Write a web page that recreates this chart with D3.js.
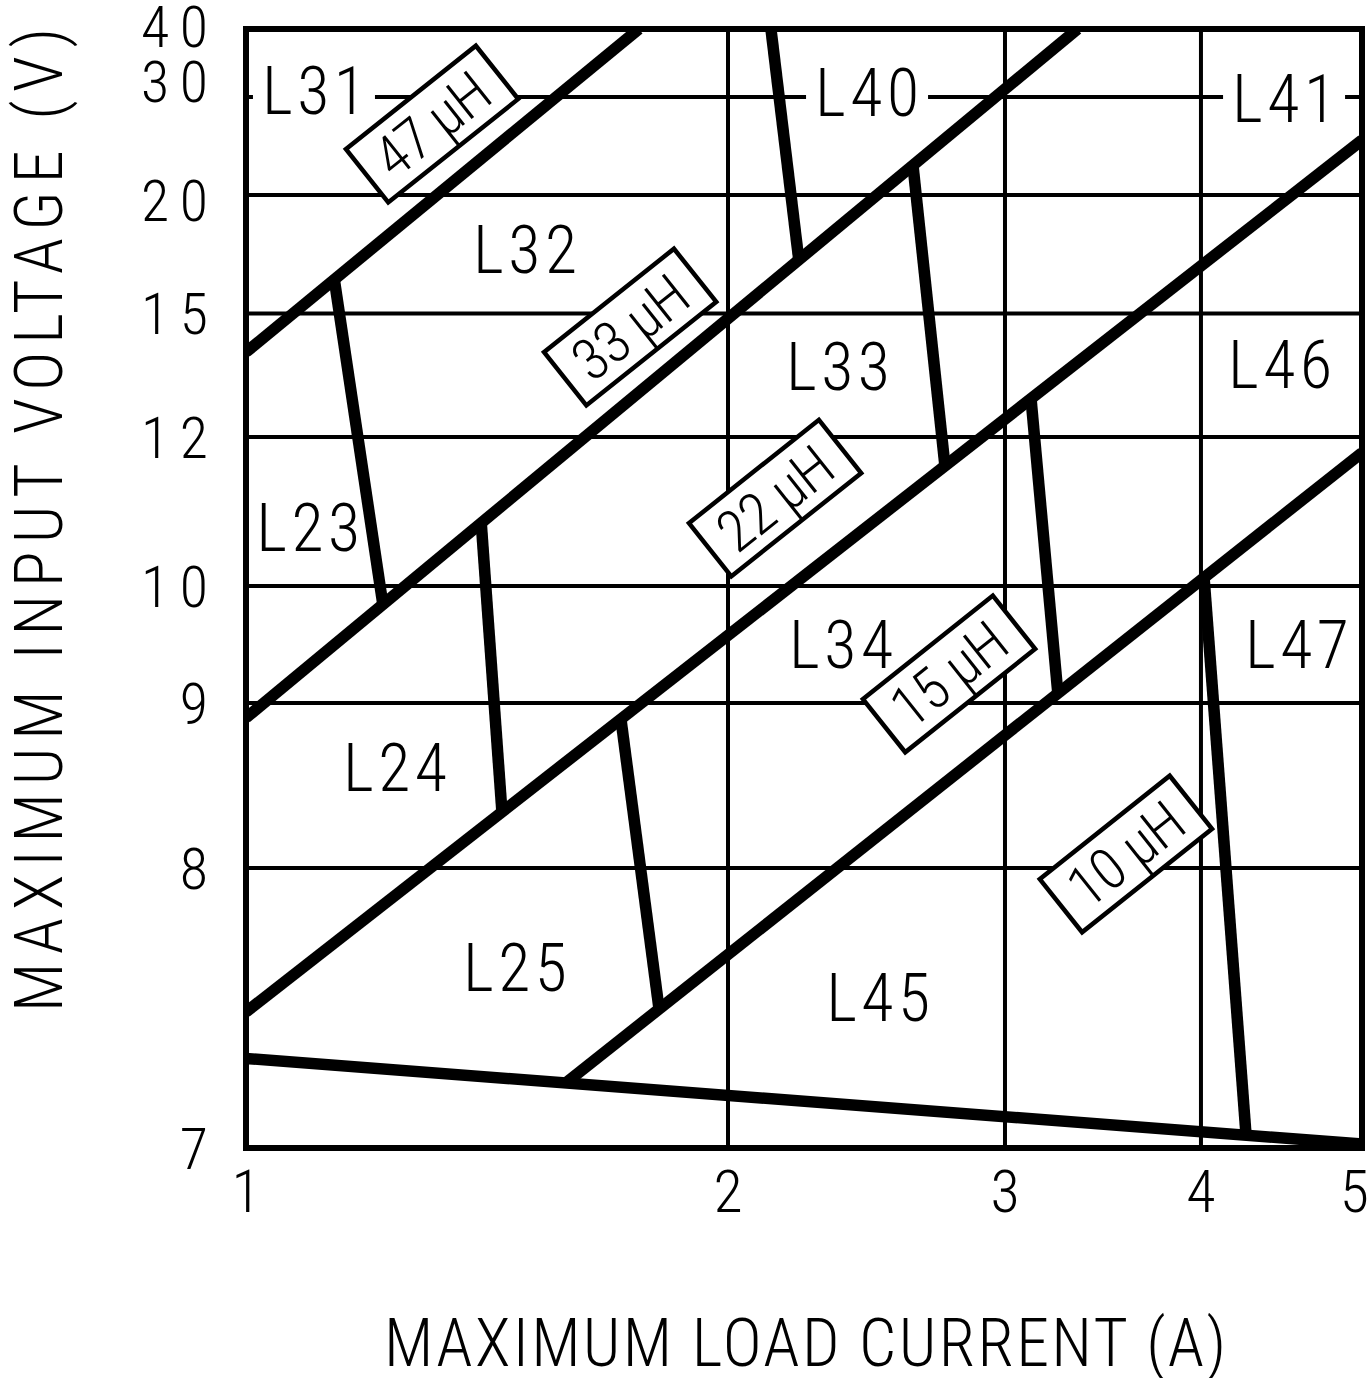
<!DOCTYPE html>
<html><head><meta charset="utf-8">
<script src="https://cdn.jsdelivr.net/npm/d3@7"></script>
<style>
body{margin:0;background:#fff}
text{font-family:"Roboto Condensed","Roboto",sans-serif;font-weight:300;fill:#000}
</style></head>
<body><svg id="chart" width="1372" height="1378"></svg>
<script>
// ---------------- DATA ----------------
const xTicks = [1, 2, 3, 4, 5];
const yTicks = [7, 8, 9, 10, 12, 15, 20, 30, 40];
const xTitle = "MAXIMUM LOAD CURRENT (A)";
const yTitle = "MAXIMUM INPUT VOLTAGE (V)";

// inductance boundary lines (load current A, input voltage V)
const bound47to33 = [[1, 14.06], [1.815, 40]];
const bound33to22 = [[1, 8.91], [3.37, 40]];
const bound22to15 = [[1, 7.486], [5, 25.6]];
const bound15to10 = [[1.666, 7.236], [5, 11.79]];
const minVoltage  = [[1, 7.32], [5, 7.014]];

// core-size boundary lines
const coreBounds = [
  [[1.183, 16.46], [1.284, 9.84]],
  [[2.155, 40],    [2.256, 17.22]],
  [[1.488, 10.85], [1.531, 8.34]],
  [[2.668, 22.96], [2.783, 11.62]],
  [[1.778, 8.90],  [1.857, 7.496]],
  [[3.133, 12.92], [3.27, 9.077]],
  [[4.019, 10.12], [4.28, 7.046]]
];

// region (inductor code) labels
const regionNames = ["L31", "L40", "L41", "L32", "L33", "L46", "L23", "L34", "L47", "L24", "L25", "L45"];
const regionX     = [1.141, 2.502, 4.516, 1.579, 2.397, 4.491, 1.129, 2.408, 4.596, 1.309, 1.558, 2.542];
const regionY     = [30.88, 30.59, 29.8, 17.68, 13.70, 13.75, 10.79, 9.496, 9.496, 8.606, 7.643, 7.536];

// inductance value tags
const inductNames = ["47 µH", "33 µH", "22 µH", "15 µH", "10 µH"];
const inductX     = [1.386, 1.797, 2.170, 2.798, 3.617];
const inductY     = [27.24, 14.67, 11.18, 9.248, 8.085];

// ---------------- LAYOUT ----------------
const margin = {left: 246, top: 29};
const W = 1116, H = 1119;
// the printed nomograph axes are hand-spaced; tick fractions along each axis
const xFrac = [0, 0.4319, 0.6801, 0.8557, 1];
const yFrac = [0, 0.2502, 0.3977, 0.5022, 0.6354, 0.7458, 0.8517, 0.9392, 1];

const x = d3.scaleLinear().domain(xTicks).range(xFrac.map(f => f * W));
const y = d3.scaleLinear().domain(yTicks).range(yFrac.map(f => H - f * H));

const svg = d3.select("#chart");
svg.append("defs").append("clipPath").attr("id", "plotClip")
  .append("rect").attr("x", -1).attr("y", -1).attr("width", W + 2).attr("height", H + 2);
const g = svg.append("g").attr("transform", `translate(${margin.left},${margin.top})`);
const line = d3.line().x(d => x(d[0])).y(d => y(d[1]));

// grid
g.append("g").selectAll("line").data(xTicks.slice(1, -1)).join("line")
  .attr("x1", d => x(d)).attr("x2", d => x(d)).attr("y1", 0).attr("y2", H)
  .attr("stroke", "#000").attr("stroke-width", 4);
g.append("g").selectAll("line").data(yTicks.slice(1, -1)).join("line")
  .attr("x1", 0).attr("x2", W).attr("y1", d => y(d)).attr("y2", d => y(d))
  .attr("stroke", "#000").attr("stroke-width", 4);

// region labels with white knock-out
const capC = 0.355; // em, half cap height of the font
const regions = regionNames.map((n, i) => ({n, x: regionX[i], y: regionY[i]}));
const rg = g.append("g");
rg.selectAll("rect").data(regions).join("rect")
  .attr("x", d => x(d.x) - 61).attr("y", d => y(d.y) - 27)
  .attr("width", 122).attr("height", 54).attr("fill", "#fff");
rg.selectAll("text").data(regions).join("text")
  .attr("x", d => x(d.x)).attr("y", d => y(d.y)).attr("dy", capC + "em")
  .attr("text-anchor", "middle").style("font-size", "66px")
  .attr("textLength", 104).attr("lengthAdjust", "spacing")
  .text(d => d.n);

// thick boundary lines, clipped to the plot
const thick = g.append("g").attr("clip-path", "url(#plotClip)")
  .attr("fill", "none").attr("stroke", "#000").attr("stroke-width", 11.5);
[bound47to33, bound33to22, bound22to15, bound15to10, minVoltage].forEach(l =>
  thick.append("path").attr("d", line(l)));
thick.selectAll("path.core").data(coreBounds).join("path").attr("class", "core").attr("d", line);

// frame
g.append("rect").attr("x", 0).attr("y", 0).attr("width", W).attr("height", H)
  .attr("fill", "none").attr("stroke", "#000").attr("stroke-width", 6);

// inductance tags
const tags = inductNames.map((n, i) => ({n, x: inductX[i], y: inductY[i]}));
const tg = g.append("g").selectAll("g").data(tags).join("g")
  .attr("transform", d => `translate(${x(d.x)},${y(d.y)}) rotate(-38.5)`);
tg.append("rect").attr("x", -83).attr("y", -34).attr("width", 166).attr("height", 68)
  .attr("fill", "#fff").attr("stroke", "#000").attr("stroke-width", 4.5);
tg.append("text").attr("text-anchor", "middle").attr("dy", capC + "em")
  .style("font-size", "58px").attr("textLength", 130).attr("lengthAdjust", "spacing")
  .text(d => d.n);

// y tick labels
const yNudge = {40: -3, 30: -16, 20: 5};
g.append("g").selectAll("text").data(yTicks).join("text")
  .attr("x", -38).attr("y", d => y(d) + (yNudge[d] || 0)).attr("dy", capC + "em")
  .attr("text-anchor", "end").style("font-size", "58px")
  .each(function(d) { if (String(d).length > 1) d3.select(this).attr("textLength", 67).attr("lengthAdjust", "spacing"); })
  .text(d => d);

// x tick labels
g.append("g").selectAll("text").data(xTicks).join("text")
  .attr("x", d => x(d)).attr("y", H + 43).attr("dy", capC + "em")
  .attr("text-anchor", d => d === 5 ? "end" : "middle")
  .attr("dx", d => d === 5 ? 7 : 0)
  .style("font-size", "60px")
  .text(d => d);

// axis titles
svg.append("text").attr("x", 805).attr("y", 1366).attr("text-anchor", "middle")
  .style("font-size", "66px").attr("textLength", 842).attr("lengthAdjust", "spacing")
  .text(xTitle);
svg.append("text").attr("transform", "translate(62,520) rotate(-90)").attr("text-anchor", "middle")
  .style("font-size", "66px").attr("textLength", 984).attr("lengthAdjust", "spacing")
  .text(yTitle);
</script></body></html>
